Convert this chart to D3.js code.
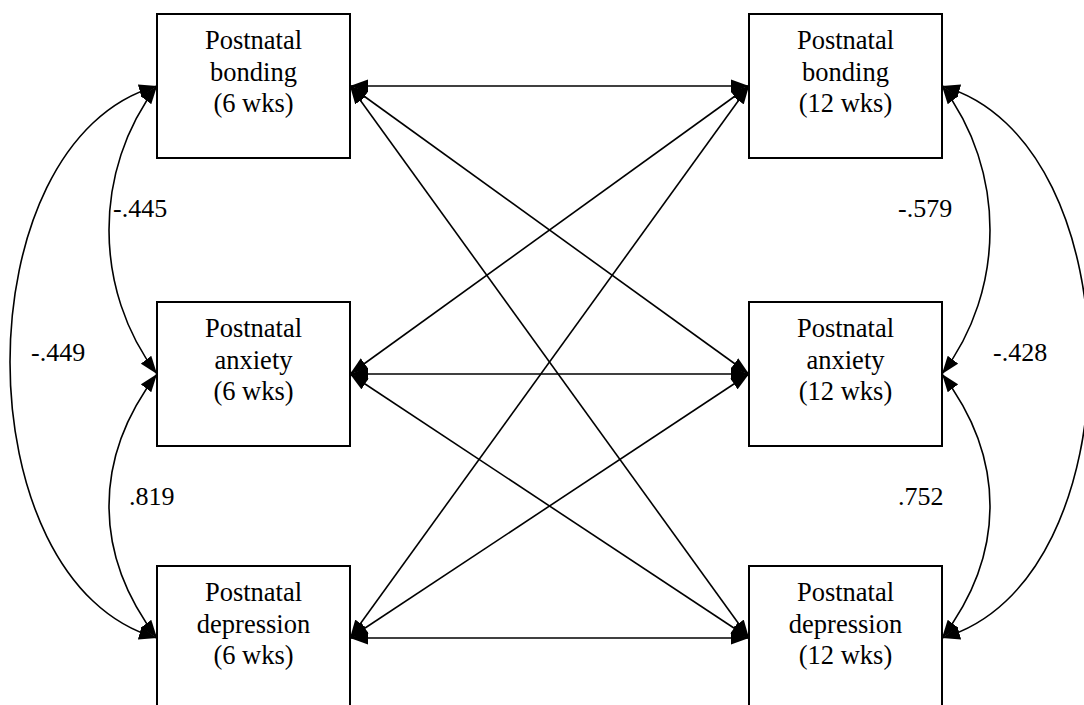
<!DOCTYPE html>
<html>
<head>
<meta charset="utf-8">
<script src="https://cdn.jsdelivr.net/npm/d3@7"></script>
<style>
  html, body { margin: 0; padding: 0; background: #fff; }
  svg { display: block; }
</style>
</head>
<body>
<svg id="chart" width="1084" height="705"></svg>
<script>
// ---- data ----
const constructs = ["bonding", "anxiety", "depression"];
const waves = ["6 wks", "12 wks"];
const prefix = "Postnatal";
// cross-wave paths (double-headed), from wave 0 construct -> wave 1 construct
const pathFrom = ["bonding", "bonding", "bonding", "anxiety", "anxiety", "anxiety", "depression", "depression", "depression"];
const pathTo   = ["bonding", "anxiety", "depression", "bonding", "anxiety", "depression", "bonding", "anxiety", "depression"];
// within-wave correlations
const corrWave   = ["6 wks", "6 wks", "6 wks", "12 wks", "12 wks", "12 wks"];
const corrA      = ["bonding", "anxiety", "bonding", "bonding", "anxiety", "bonding"];
const corrB      = ["anxiety", "depression", "depression", "anxiety", "depression", "depression"];
const corrValues = [-0.445, 0.819, -0.449, -0.579, 0.752, -0.428];

// ---- layout ----
const svg = d3.select("#chart");
svg.append("rect").attr("width", 1084).attr("height", 705).attr("fill", "#fff");

const boxW = 193, boxH = 144;
const xCol = d3.scaleOrdinal().domain(waves).range([157, 749]);          // box left edges
const yRow = d3.scaleOrdinal().domain(constructs).range([86, 374, 638]); // box centres
const fmt = v => v.toFixed(3).replace("0.", ".");

const font = "'Liberation Serif', 'Times New Roman', serif";

// arrow marker
const defs = svg.append("defs");
defs.append("marker")
  .attr("id", "arr")
  .attr("viewBox", "0 -7 18 14")
  .attr("refX", 18).attr("refY", 0)
  .attr("markerWidth", 18).attr("markerHeight", 14)
  .attr("markerUnits", "userSpaceOnUse")
  .attr("orient", "auto-start-reverse")
  .append("path")
  .attr("d", "M0,-6.5L18,0L0,6.5Z")
  .attr("fill", "#000");

const gLines = svg.append("g");
const gBoxes = svg.append("g");

// cross paths
const leftAnchorX = xCol(waves[0]) + boxW;
const rightAnchorX = xCol(waves[1]);
pathFrom.forEach((f, i) => {
  gLines.append("line")
    .attr("x1", leftAnchorX).attr("y1", yRow(f))
    .attr("x2", rightAnchorX).attr("y2", yRow(pathTo[i]))
    .attr("stroke", "#000").attr("stroke-width", 1.6)
    .attr("marker-start", "url(#arr)")
    .attr("marker-end", "url(#arr)");
});

// correlation curves
const labelPos = [
  [113, 217], [129, 505], [31, 361],
  [898, 217], [898, 505], [993, 361]
];
corrValues.forEach((v, i) => {
  const w = corrWave[i];
  const isLeft = w === waves[0];
  const x = isLeft ? xCol(w) : xCol(w) + boxW;
  const s = isLeft ? -1 : 1;
  const ya = yRow(corrA[i]), yb = yRow(corrB[i]);
  const span = Math.abs(yb - ya);
  const outer = span > 400;
  const a = outer ? 196 : 64;
  const b = outer ? 55 : 84;
  const p = d3.path();
  p.moveTo(x, ya);
  p.bezierCurveTo(x + s * a, ya + b, x + s * a, yb - b, x, yb);
  gLines.append("path")
    .attr("d", p.toString())
    .attr("fill", "none")
    .attr("stroke", "#000").attr("stroke-width", 1.6)
    .attr("marker-start", "url(#arr)")
    .attr("marker-end", "url(#arr)");
  svg.append("text")
    .attr("x", labelPos[i][0]).attr("y", labelPos[i][1])
    .attr("font-family", font).attr("font-size", 26)
    .attr("fill", "#000")
    .text(fmt(v));
});

// boxes
waves.forEach(w => {
  constructs.forEach(c => {
    const x0 = xCol(w), y0 = yRow(c) - boxH / 2;
    gBoxes.append("rect")
      .attr("x", x0).attr("y", y0)
      .attr("width", boxW).attr("height", boxH)
      .attr("fill", "#fff").attr("stroke", "#000").attr("stroke-width", 2);
    const lines = [prefix, c, "(" + w + ")"];
    lines.forEach((t, k) => {
      gBoxes.append("text")
        .attr("x", x0 + boxW / 2).attr("y", y0 + 35 + k * 31.5)
        .attr("text-anchor", "middle")
        .attr("font-family", font).attr("font-size", 26.5)
        .attr("fill", "#000")
        .text(t);
    });
  });
});
</script>
</body>
</html>
